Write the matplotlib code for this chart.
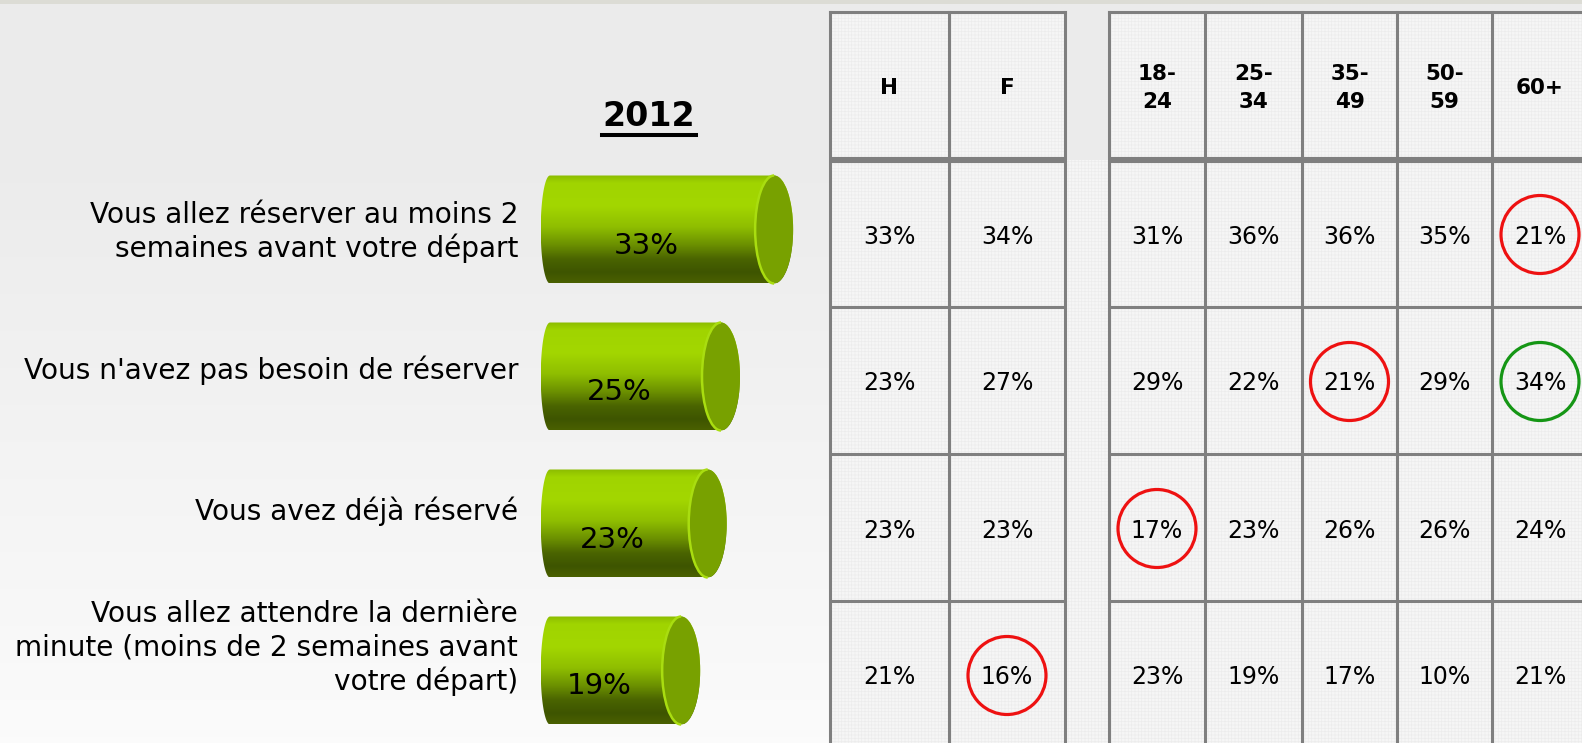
import numpy as np
import matplotlib
matplotlib.use("Agg")
import matplotlib.pyplot as plt
from matplotlib.patches import Rectangle, Ellipse, Arc, PathPatch
from matplotlib.path import Path
from matplotlib.colors import LinearSegmentedColormap

# ---------------- data ----------------
categories = [
    "Vous allez réserver au moins 2\nsemaines avant votre départ",
    "Vous n'avez pas besoin de réserver",
    "Vous avez déjà réservé",
    "Vous allez attendre la dernière\nminute (moins de 2 semaines avant\nvotre départ)",
]
values_2012 = [33, 25, 23, 19]
year_label = "2012"

sex_labels = ["H", "F"]
age_labels = ["18-\n24", "25-\n34", "35-\n49", "50-\n59", "60+"]
sex_values = [[33, 34], [23, 27], [23, 23], [21, 16]]
age_values = [[31, 36, 36, 35, 21],
              [29, 22, 21, 29, 34],
              [17, 23, 26, 26, 24],
              [23, 19, 17, 10, 21]]
# (row, column label, direction)  low = red circle, high = green circle
highlights = [(0, "60+", "low"), (1, "35-\n49", "low"), (1, "60+", "high"),
              (2, "18-\n24", "low"), (3, "F", "low")]

# ---------------- layout ----------------
W, H = 1582, 743
fig = plt.figure(figsize=(W / 100, H / 100), dpi=100)
ax = fig.add_axes([0, 0, 1, 1])
ax.set_xlim(0, W)
ax.set_ylim(H, 0)
ax.axis("off")

# background gradient
yy = np.arange(H)
g = np.where(yy < 150, 0.922, 0.922 + (0.985 - 0.922) * (yy - 150) / (H - 150))
bg = np.repeat(g[:, None, None], 3, axis=2)
ax.imshow(bg, extent=(0, W, H, 0), aspect="auto", zorder=0, interpolation="bilinear")
ax.add_patch(Rectangle((0, 0), W, 4, color="#dcdcd5", zorder=1, lw=0))

# table geometry
group_edges = [[830, 949, 1065], [1109, 1205, 1302, 1397, 1492, 1588]]
row_edges = [12, 160, 307, 454, 601, 748]
col_labels = sex_labels + age_labels
table_values = [s + a for s, a in zip(sex_values, age_values)]
col_centers = []
for edges in group_edges:
    for a, b in zip(edges[:-1], edges[1:]):
        col_centers.append((a + b) / 2)
row_centers = [(row_edges[i] + row_edges[i + 1]) / 2 for i in range(1, len(row_edges) - 1)]

cell_fc = "#f6f6f6"
tex_c = "#ececec"
plt.rcParams["hatch.linewidth"] = 0.5
# body area (including gap)
ax.add_patch(Rectangle((830, 160), W - 830, H - 160, fc=cell_fc, lw=0, zorder=2))
ax.add_patch(Rectangle((830, 160), W - 830, H - 160, fc="none", ec=tex_c, lw=0,
                       hatch="+++++", zorder=2.1))
for edges in group_edges:
    ax.add_patch(Rectangle((edges[0], 12), edges[-1] - edges[0], 148, fc=cell_fc, lw=0, zorder=2))
    ax.add_patch(Rectangle((edges[0], 12), edges[-1] - edges[0], 148, fc="none", ec=tex_c,
                           lw=0, hatch="+++++", zorder=2.1))

lc = "#7f7f7f"
lw = 2.2
for edges in group_edges:
    for x in edges:
        ax.plot([x, x], [12, H + 5], color=lc, lw=lw, zorder=3, solid_capstyle="projecting")
    ax.plot([edges[0], edges[-1]], [12, 12], color=lc, lw=lw, zorder=3, solid_capstyle="projecting")
    ax.plot([edges[0], edges[-1]], [160, 160], color=lc, lw=4.4, zorder=3, solid_capstyle="butt")
    for y in row_edges[2:-1]:
        ax.plot([edges[0], edges[-1]], [y, y], color=lc, lw=lw, zorder=3, solid_capstyle="butt")

# headers
for cx, lab in zip(col_centers, col_labels):
    ax.text(cx, 88, lab, ha="center", va="center", fontsize=15.5, fontweight="bold",
            linespacing=1.5, zorder=4)

# values
for r, rowvals in enumerate(table_values):
    for c, v in enumerate(rowvals):
        ax.text(col_centers[c], row_centers[r] + 3, f"{v}%", ha="center", va="center",
                fontsize=17, zorder=4)

# circles
circle_colors = {"low": "#ee1111", "high": "#159615"}
for r, lab, d in highlights:
    c = col_labels.index(lab)
    ax.add_patch(Ellipse((col_centers[c], row_centers[r] + 1), 78, 78, fc="none",
                         ec=circle_colors[d], lw=2.3, zorder=5))

# year title
ax.text(649, 117, year_label, ha="center", va="center", fontsize=24, fontweight="bold", zorder=4)
ax.plot([602, 696], [135, 135], color="black", lw=2.9, zorder=4)

# category labels
label_offsets = [-1.5, -10.5, -16.5, -26.5]
for r, (lab, off) in enumerate(zip(categories, label_offsets)):
    ax.text(518, row_centers[r] + off, lab, ha="right", va="center", fontsize=20.2,
            linespacing=1.22, zorder=4)

# ---------------- cylinders ----------------
k = 6.64  # px per percentage point
x0_px = 555
cax = fig.add_axes([530 / W, 0, 300 / W, 1])
cax.set_xlim((530 - x0_px) / k, (830 - x0_px) / k)
cax.set_ylim(H, 0)
cax.axis("off")

body_cmap = LinearSegmentedColormap.from_list("cyl", [
    (0.00, "#8cbd00"), (0.07, "#a0d400"), (0.28, "#a3d700"), (0.48, "#8fbe00"),
    (0.64, "#6d9200"), (0.78, "#4a6400"), (0.90, "#3e5500"), (1.00, "#4a6000")])

half_h = 54
xl = -0.75
aL = 1.4
aR = 19 / k
for r, v in enumerate(values_2012):
    yc = row_centers[r] - 4
    t1 = np.linspace(-np.pi / 2, np.pi / 2, 60)
    t2 = np.linspace(np.pi / 2, 3 * np.pi / 2, 60)
    xs = np.concatenate([[xl], v + aR * np.cos(t1), [xl], xl + aL * np.cos(t2)])
    ys = np.concatenate([[yc - half_h], yc + half_h * np.sin(t1), [yc + half_h],
                         yc + half_h * np.sin(t2)])
    verts = np.column_stack([xs, ys])
    path = Path(np.vstack([verts, verts[:1]]),
                [Path.MOVETO] + [Path.LINETO] * (len(verts) - 1) + [Path.CLOSEPOLY])
    clip = PathPatch(path, fc="none", ec="none", transform=cax.transData)
    cax.add_patch(clip)
    grad = np.linspace(0, 1, 200)[:, None]
    im = cax.imshow(grad, cmap=body_cmap, extent=(xl - aL, v + aR, yc + half_h, yc - half_h),
                    aspect="auto", zorder=2, interpolation="bilinear")
    im.set_clip_path(clip)
    cax.add_patch(Ellipse((v, yc), 2 * aR, 2 * half_h, fc="#78a100", ec="none", zorder=3))
    cax.add_patch(Arc((v, yc), 2 * aR, 2 * half_h, theta1=90, theta2=270,
                      color="#a9dd10", lw=1.8, zorder=4))
    cax.text(v / 2 - 2.8, yc + 16, f"{v}%", ha="center", va="center", fontsize=21, zorder=5)

cax.set_xlim((530 - x0_px) / k, (830 - x0_px) / k)
cax.set_ylim(H, 0)

fig.savefig("out.png", dpi=100)
